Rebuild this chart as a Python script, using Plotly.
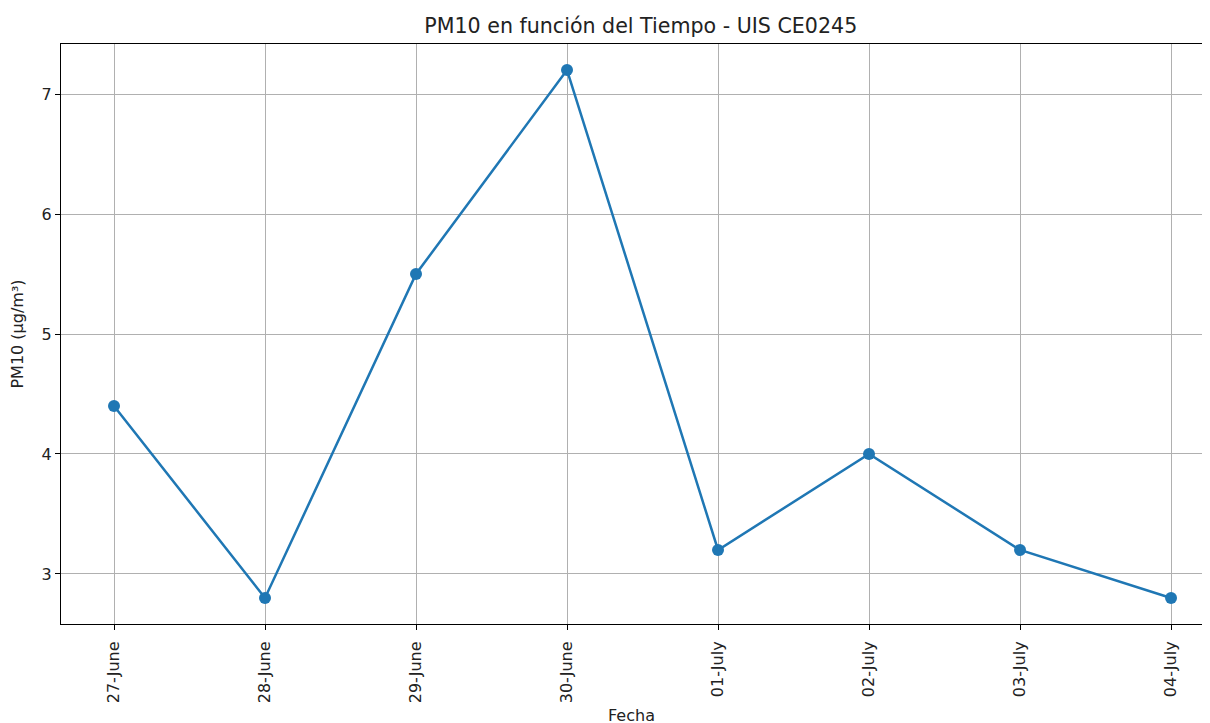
import plotly.graph_objects as go

fechas = ["27-June", "28-June", "29-June", "30-June", "01-July", "02-July", "03-July", "04-July"]
pm10 = [4.4, 2.8, 5.5, 7.2, 3.2, 4.0, 3.2, 2.8]
y_ticks = [3, 4, 5, 6, 7]

x_pos = list(range(len(fechas)))

fig = go.Figure(go.Scatter(
    x=x_pos, y=pm10, mode="lines+markers",
    line=dict(color="#1f77b4", width=2.5),
    marker=dict(color="#1f77b4", size=12),
))

axis_style = dict(
    showgrid=True, gridcolor="#b0b0b0", gridwidth=1,
    showline=True, linecolor="black", linewidth=1, mirror=True,
    ticks="outside", ticklen=5, tickcolor="black",
    zeroline=False, tickfont=dict(size=16, color="#222"),
)

fig.update_layout(
    width=1194, height=723,
    margin=dict(l=53, r=0, t=36, b=107),
    paper_bgcolor="white", plot_bgcolor="white",
    font=dict(family="DejaVu Sans", color="#222"),
    showlegend=False,
    title=dict(text="PM10 en función del Tiempo - UIS CE0245", x=0.53, xanchor="center",
               y=0.975, yanchor="middle", font=dict(size=20.6)),
    xaxis=dict(axis_style, range=[-0.351, 7.205], tickvals=x_pos, ticktext=fechas,
               tickangle=-90, ticklabelstandoff=5,
               title=dict(text="Fecha", font=dict(size=16), standoff=7)),
    yaxis=dict(axis_style, range=[2.583, 7.417], tickvals=y_ticks,
               title=dict(text="PM10 (µg/m³)", font=dict(size=16), standoff=14)),
)

fig.write_html("out.html")
